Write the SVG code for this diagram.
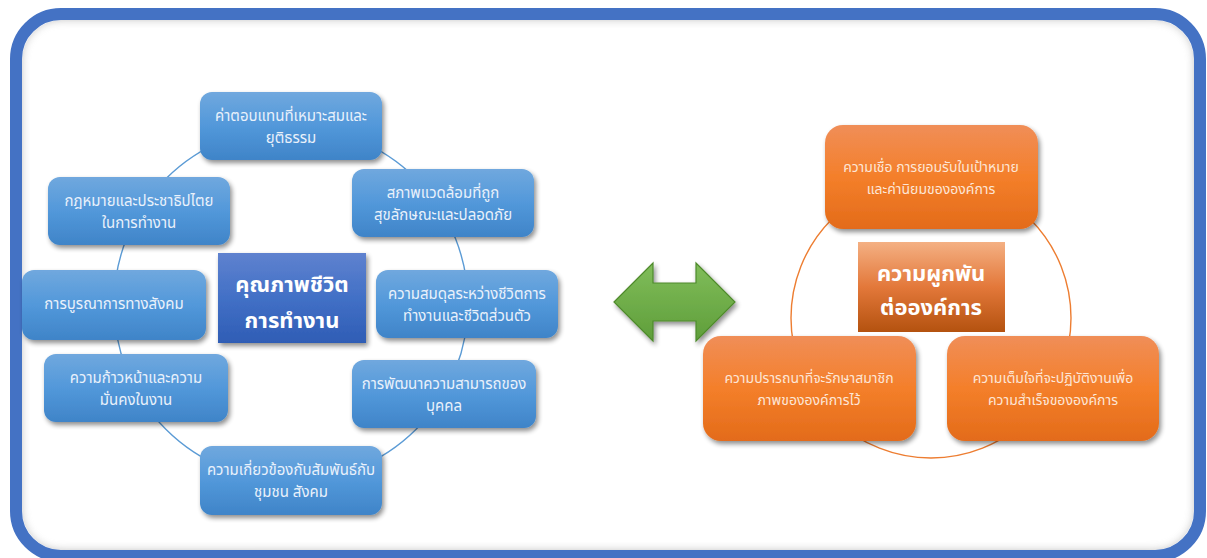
<svg xmlns="http://www.w3.org/2000/svg" width="1207" height="558" viewBox="0 0 1207 558">
<defs>
<linearGradient id="gBlue" x1="0" y1="0" x2="0" y2="1">
<stop offset="0" stop-color="#70a8de"/><stop offset="0.5" stop-color="#5298da"/><stop offset="1" stop-color="#3f84c8"/>
</linearGradient>
<linearGradient id="gBlueC" x1="0" y1="0" x2="0" y2="1">
<stop offset="0" stop-color="#5f82cf"/><stop offset="0.5" stop-color="#4270c6"/><stop offset="1" stop-color="#2f5db5"/>
</linearGradient>
<linearGradient id="gOr" x1="0" y1="0" x2="0" y2="1">
<stop offset="0" stop-color="#f08e58"/><stop offset="0.5" stop-color="#f47f2a"/><stop offset="1" stop-color="#e36b1a"/>
</linearGradient>
<linearGradient id="gOrC" x1="0" y1="0" x2="0" y2="1">
<stop offset="0" stop-color="#f4b083"/><stop offset="0.5" stop-color="#e3783a"/><stop offset="1" stop-color="#b4520f"/>
</linearGradient>
<linearGradient id="gGreen" x1="0" y1="0" x2="0" y2="1">
<stop offset="0" stop-color="#80bd5a"/><stop offset="1" stop-color="#5f9e3a"/>
</linearGradient>
<filter id="sh" x="-20%" y="-20%" width="140%" height="150%">
<feGaussianBlur in="SourceAlpha" stdDeviation="2.5"/>
<feOffset dx="2" dy="3" result="b"/>
<feComponentTransfer><feFuncA type="linear" slope="0.45"/></feComponentTransfer>
<feMerge><feMergeNode/><feMergeNode in="SourceGraphic"/></feMerge>
</filter>
<filter id="blur6"><feGaussianBlur stdDeviation="5"/></filter>
<clipPath id="inner"><rect x="22" y="20" width="1172" height="530" rx="40"/></clipPath>
<style>
.bn{fill:url(#gBlue);filter:url(#sh)}
.on{fill:url(#gOr);filter:url(#sh)}
.t{font-family:"Noto Sans Thai","Tahoma","Leelawadee UI","Noto Sans",sans-serif;font-size:14px;text-anchor:middle}
.tb{fill:#e9f1fb;font-size:15px}
.to{fill:#fde6d6}
.big{font-family:"Noto Sans Thai","Tahoma","Leelawadee UI","Noto Sans",sans-serif;font-size:22px;font-weight:bold;fill:#ffffff;text-anchor:middle}
.ring{fill:none;stroke-width:1.4}
</style>
</defs>
<rect x="0" y="0" width="1207" height="558" fill="#ffffff"/>
<g id="frame">
<g clip-path="url(#inner)">
<rect x="16" y="14" width="1184" height="542" rx="45" fill="none" stroke="#8a8a8a" stroke-width="10" filter="url(#blur6)" opacity="0.6"/>
</g>
<rect x="16" y="14" width="1184" height="542" rx="45" fill="none" stroke="#4472c4" stroke-width="12"/>
</g>
<g id="connectors">
<circle class="ring" cx="291" cy="304" r="177" stroke="#5b9bd5"/>
<circle class="ring" cx="931" cy="318" r="140" stroke="#ed7d31"/>
</g>
<g id="n1"><rect class="bn" x="200" y="92" width="182" height="68" rx="12"/>
<text class="t tb" x="291" y="121">ค่าตอบแทนที่เหมาะสมและ</text><text class="t tb" x="291" y="143">ยุติธรรม</text></g>
<g id="n2"><rect class="bn" x="352" y="169" width="182" height="68" rx="12"/>
<text class="t tb" x="443" y="198">สภาพแวดล้อมที่ถูก</text><text class="t tb" x="443" y="220">สุขลักษณะและปลอดภัย</text></g>
<g id="n3"><rect class="bn" x="48" y="177" width="182" height="68" rx="12"/>
<text class="t tb" x="139" y="206">กฎหมายและประชาธิปไตย</text><text class="t tb" x="139" y="228">ในการทำงาน</text></g>
<g id="n4"><rect class="bn" x="22" y="270" width="184" height="70" rx="12"/>
<text class="t tb" x="114" y="309">การบูรณาการทางสังคม</text></g>
<g id="n5"><rect class="bn" x="376" y="270" width="182" height="68" rx="12"/>
<text class="t tb" x="467" y="299">ความสมดุลระหว่างชีวิตการ</text><text class="t tb" x="467" y="321">ทำงานและชีวิตส่วนตัว</text></g>
<g id="n6"><rect class="bn" x="44" y="354" width="184" height="68" rx="12"/>
<text class="t tb" x="136" y="383">ความก้าวหน้าและความ</text><text class="t tb" x="136" y="405">มั่นคงในงาน</text></g>
<g id="n7"><rect class="bn" x="352" y="360" width="184" height="68" rx="12"/>
<text class="t tb" x="444" y="389">การพัฒนาความสามารถของ</text><text class="t tb" x="444" y="411">บุคคล</text></g>
<g id="n8"><rect class="bn" x="200" y="446" width="182" height="69" rx="12"/>
<text class="t tb" x="291" y="475">ความเกี่ยวข้องกับสัมพันธ์กับ</text><text class="t tb" x="291" y="497">ชุมชน สังคม</text></g>
<g id="center-blue"><rect x="218" y="253" width="148" height="90" fill="url(#gBlueC)" filter="url(#sh)"/>
<text class="big" x="292" y="292">คุณภาพชีวิต</text><text class="big" x="292" y="328">การทำงาน</text></g>
<g id="arrow"><polygon points="614,302 653,263 653,283 696,283 696,263 735,302 696,341 696,321 653,321 653,341" fill="url(#gGreen)" stroke="#4e8a2c" stroke-width="1.2" filter="url(#sh)"/></g>
<g id="o1"><rect class="on" x="825" y="125" width="213" height="104" rx="18"/>
<text class="t to" x="931" y="172">ความเชื่อ การยอมรับในเป้าหมาย</text><text class="t to" x="931" y="194">และค่านิยมขององค์การ</text></g>
<g id="o2"><rect class="on" x="703" y="336" width="213" height="105" rx="18"/>
<text class="t to" x="809" y="383">ความปรารถนาที่จะรักษาสมาชิก</text><text class="t to" x="809" y="405">ภาพขององค์การไว้</text></g>
<g id="o3"><rect class="on" x="947" y="336" width="212" height="105" rx="18"/>
<text class="t to" x="1053" y="383">ความเต็มใจที่จะปฏิบัติงานเพื่อ</text><text class="t to" x="1053" y="405">ความสำเร็จขององค์การ</text></g>
<g id="center-orange"><rect x="858" y="242" width="147" height="90" fill="url(#gOrC)"/>
<text class="big" x="931" y="281">ความผูกพัน</text><text class="big" x="931" y="315">ต่อองค์การ</text></g>
</svg>
